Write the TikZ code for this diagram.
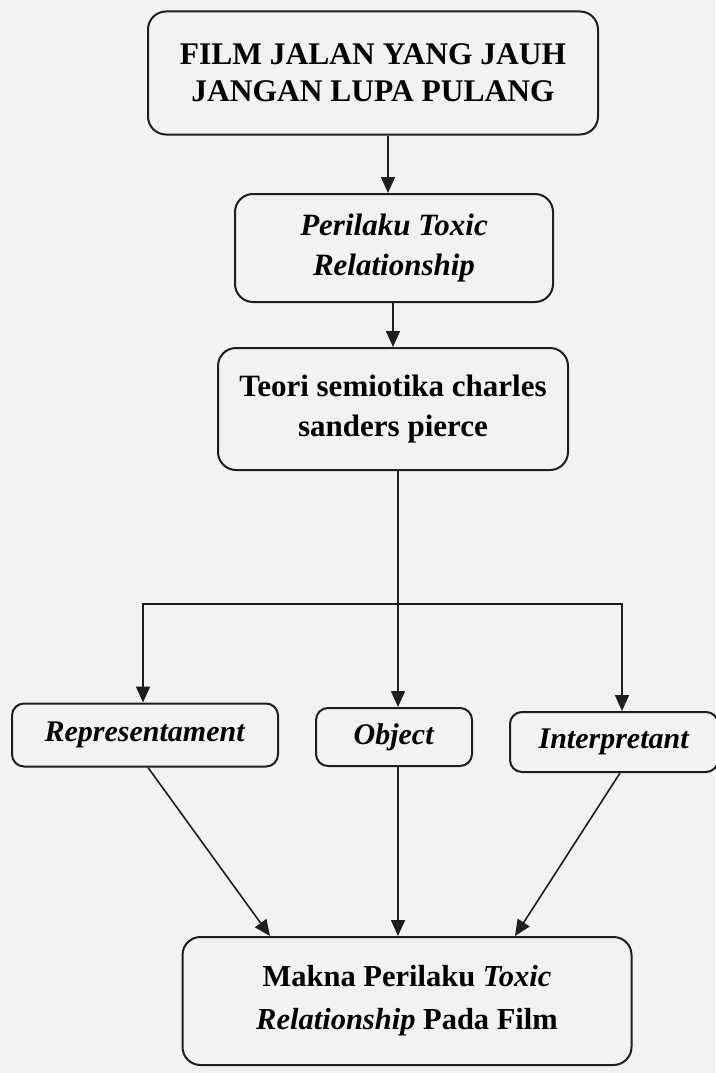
\documentclass[tikz,border=0pt]{standalone}
\usepackage{fontspec}
\setmainfont{Liberation Serif}
\usetikzlibrary{arrows.meta}
\definecolor{paper}{RGB}{242,241,243}
\definecolor{ink}{RGB}{30,30,30}
\tikzset{
    box/.style={draw=ink, line width=2pt, rounded corners=18pt, align=center, font=\fontsize{31}{40}\selectfont\bfseries},
    small/.style={rounded corners=12pt, font=\fontsize{30}{36}\selectfont\bfseries},
    arr/.style={draw=ink, line width=1.6pt, -{Triangle[length=16pt,width=14pt]}}
}
\begin{document}
\begin{tikzpicture}[x=1pt, y=-1pt]
                \fill[paper] (0,0) rectangle (715,1073);
                \useasboundingbox (0,0) rectangle (715,1073);

                \node[box, minimum width=450pt, minimum height=123pt, font=\fontsize{31.5}{37}\selectfont\bfseries] (film) at (373,73) {FILM JALAN YANG JAUH\\JANGAN LUPA PULANG};
                \node[box, minimum width=318pt, minimum height=108pt] (perilaku) at (394,248) {\textit{Perilaku Toxic}\\\textit{Relationship}};
                \node[box, minimum width=350pt, minimum height=122pt] (teori) at (393,409) {Teori semiotika charles\\sanders pierce};
                \node[box, small, minimum width=266pt, minimum height=63pt] (rep) at (145,735) {\textit{Representament}};
                \node[box, small, minimum width=156pt, minimum height=58pt] (obj) at (394,737) {\textit{Object}};
                \node[box, small, minimum width=208pt, minimum height=60pt] (interp) at (614,742) {\textit{Interpretant}};
                \node[box, minimum width=449pt, minimum height=128pt, font=\fontsize{30.5}{43}\selectfont\bfseries] (makna) at (407,1001) {Makna Perilaku \textit{Toxic}\\\textit{Relationship} Pada Film};
                \coordinate (fork) at (398,604);

                \draw[arr] ([xshift=15pt]film.south) -- ([xshift=-6pt]perilaku.north);
                \draw[arr] ([xshift=-1pt]perilaku.south) -- (teori.north);
                \draw[arr] ([xshift=5pt]teori.south) -- ([xshift=4pt]obj.north);
                \draw[arr] (fork) -| ([xshift=-2pt]rep.north);
                \draw[arr] (fork) -| ([xshift=8pt]interp.north);

                \draw[arr] ([xshift=3pt]rep.south) -- ([xshift=-137pt]makna.north);
                \draw[arr] ([xshift=4pt]obj.south) -- ([xshift=-9pt]makna.north);
                \draw[arr] ([xshift=6pt]interp.south) -- ([xshift=108pt]makna.north);
            \end{tikzpicture}
\end{document}
